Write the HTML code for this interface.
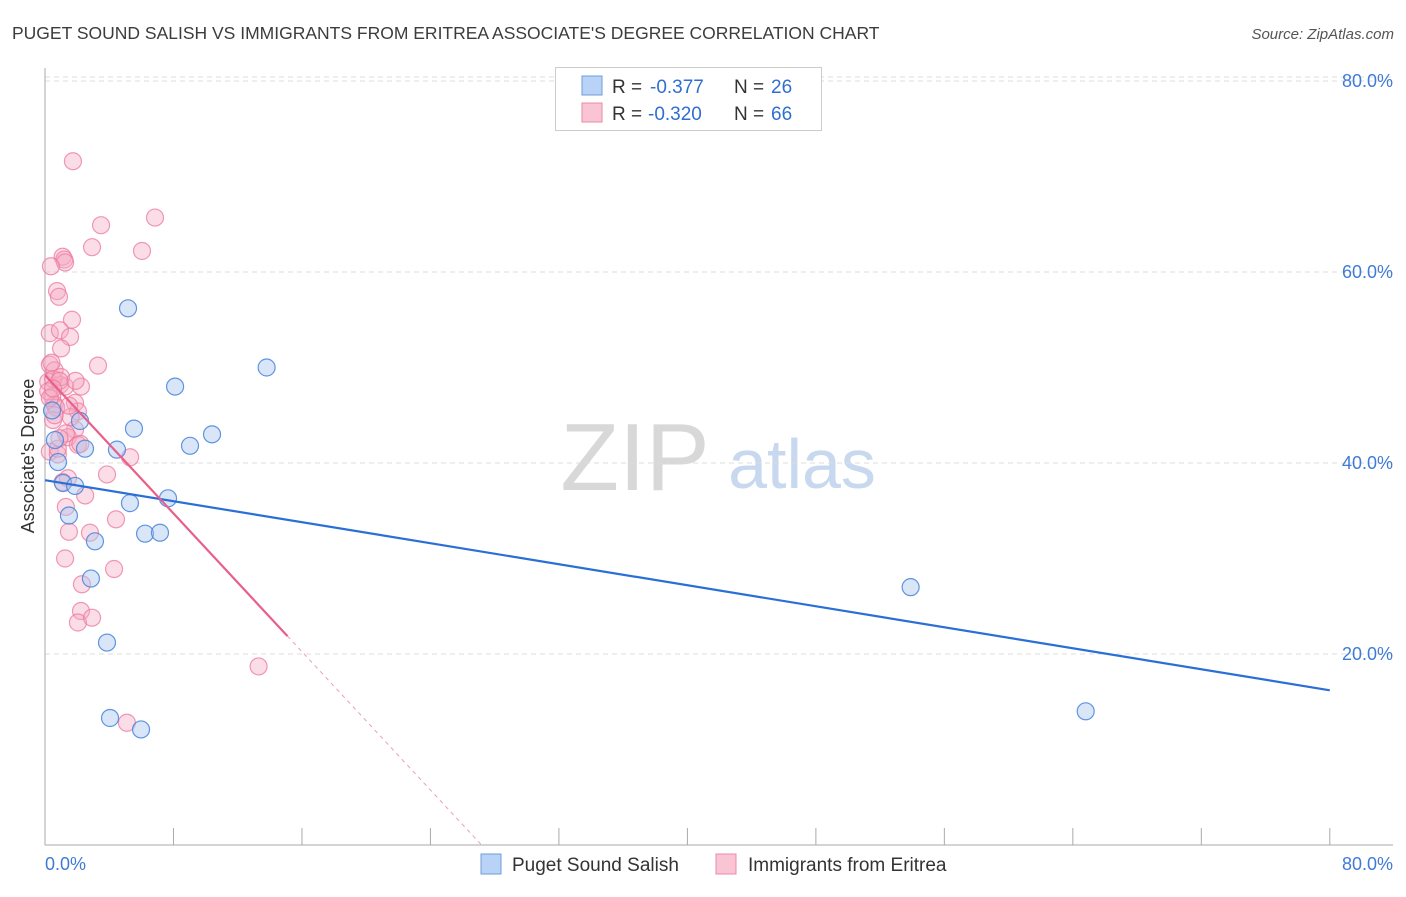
<!DOCTYPE html>
<html><head><meta charset="utf-8"><style>
body{margin:0;background:#fff;font-family:"Liberation Sans",sans-serif;}
svg text{font-family:"Liberation Sans",sans-serif;}
</style></head><body>
<svg id="chart" width="1406" height="892" viewBox="0 0 1406 892" xmlns="http://www.w3.org/2000/svg">
<text x="12" y="39" font-size="17.5" fill="#3c3c3c">PUGET SOUND SALISH VS IMMIGRANTS FROM ERITREA ASSOCIATE'S DEGREE CORRELATION CHART</text>
<text x="1394" y="39" font-size="15" fill="#555" text-anchor="end" font-style="italic">Source: ZipAtlas.com</text>
<g>
<text x="635" y="490" font-size="96" fill="#d8d8d8" font-family="Liberation Serif, serif" text-anchor="middle">ZIP</text>
<text x="802" y="488" font-size="70" fill="#c8d8ee" text-anchor="middle">atlas</text>
</g>
<g id="grid"></g>
<g id="axes"></g>
<g id="marks"></g>
<g>
<rect x="555.500" y="67.500" width="266" height="63" fill="#fff" stroke="#ccc"/>
<rect x="582" y="76" width="20" height="19" fill="#b8d3f5" stroke="#6c9ee0"/>
<text x="612" y="93" font-size="19" fill="#333">R = </text><text x="650" y="93" font-size="19" fill="#2f6fd0">-0.377</text>
<text x="734" y="93" font-size="19" fill="#333">N = </text><text x="771" y="93" font-size="19" fill="#2f6fd0">26</text>
<rect x="582" y="103" width="20" height="19" fill="#f9c5d5" stroke="#ee88a8"/>
<text x="612" y="120" font-size="19" fill="#333">R = </text><text x="648" y="120" font-size="19" fill="#2f6fd0">-0.320</text>
<text x="734" y="120" font-size="19" fill="#333">N = </text><text x="771" y="120" font-size="19" fill="#2f6fd0">66</text>
</g>
<g>
<rect x="481" y="854" width="20" height="20" fill="#b8d3f5" stroke="#6c9ee0"/>
<text x="512" y="871" font-size="19" fill="#333">Puget Sound Salish</text>
<rect x="716" y="854" width="20" height="20" fill="#f9c5d5" stroke="#ee88a8"/>
<text x="748" y="871" font-size="19" fill="#333">Immigrants from Eritrea</text>
</g>
<text transform="translate(34,456) rotate(-90)" font-size="18" fill="#333" text-anchor="middle">Associate's Degree</text>
</svg>
<script>
const yTicks=[20,40,60,80];
const yTickLabels=["20.0%","40.0%","60.0%","80.0%"];
const xTicks=[0,8,16,24,32,40,48,56,64,72,80];
const xLabels=["0.0%","80.0%"];
const salishX=[5.17,13.8,8.1,2.18,5.54,10.4,9.03,2.49,4.48,0.62,0.44,0.81,1.12,1.87,7.66,5.29,1.49,3.11,6.23,7.16,2.86,3.86,4.05,5.98,53.9,64.8];
const salishY=[56.2,50.0,48.0,44.4,43.6,43.0,41.8,41.5,41.4,42.4,45.5,40.1,37.9,37.6,36.3,35.8,34.5,31.8,32.6,32.7,27.9,21.2,13.3,12.1,27.0,14.0];
const eritreaX=[1.74,6.85,3.49,2.93,6.04,1.1,1.2,1.25,0.37,0.75,0.87,1.68,0.3,0.93,1.56,1.0,3.3,0.3,0.6,0.2,0.95,1.25,0.45,2.24,1.87,0.6,2.05,0.5,1.87,1.43,2.05,0.3,0.8,3.86,1.43,2.5,1.3,4.42,1.49,2.8,1.25,2.3,4.3,2.24,2.05,2.93,13.3,5.1,5.3,2.2,0.5,0.2,1.0,0.7,1.6,0.4,0.9,0.3,1.3,0.8,0.5,1.1,1.9,0.6,1.5,0.9];
const eritreaY=[71.6,65.7,64.9,62.6,62.2,61.6,61.3,61.0,60.6,58.0,57.4,55.0,53.6,53.9,53.2,52.0,50.2,50.3,49.7,48.5,48.2,48.0,47.0,48.0,46.3,46.1,45.4,44.5,43.5,42.7,41.9,41.2,40.9,38.8,38.4,36.6,35.4,34.1,32.8,32.7,30.0,27.3,28.9,24.5,23.3,23.8,18.7,12.8,40.6,42.0,48.8,47.5,49.0,45.8,44.8,50.5,48.6,46.8,43.1,41.5,47.8,38.0,48.6,45.0,46.0,42.6];
const salishFit=[38.2,-0.275];
const eritreaFit=[49.2,-1.81];
const NS="http://www.w3.org/2000/svg";
const X=v=>45+v*16.06, Y=v=>845-v*9.55;
function mk(tag,attrs,parent){const e=document.createElementNS(NS,tag);for(const k in attrs)e.setAttribute(k,attrs[k]);document.getElementById(parent).appendChild(e);return e;}
yTicks.forEach((t,i)=>{
 const g=mk('line',{x1:45,x2:1393,y1:Y(t),y2:Y(t),stroke:'#ddd','stroke-dasharray':'5,4'},'grid');
 
 
 const l=mk('text',{x:1393,y:Y(t)+6,'font-size':18,fill:'#3f7bd6','text-anchor':'end'},'axes');l.textContent=yTickLabels[i];
 
 
});
const g0=mk('line',{x1:45,x2:1393,y1:Y(80)-4,y2:Y(80)-4,stroke:'#ddd','stroke-dasharray':'5,4'},'grid');
let a=mk('line',{x1:45,x2:45,y1:68,y2:845,stroke:'#aaa'},'axes');


a=mk('line',{x1:45,x2:1393,y1:845,y2:845,stroke:'#aaa'},'axes');


xTicks.forEach(t=>{const k=mk('line',{x1:X(t),x2:X(t),y1:828,y2:845,stroke:'#aaa'},'axes');
 
 });
let xl=mk('text',{x:45,y:870,'font-size':18,fill:'#3f7bd6'},'axes');xl.textContent=xLabels[0];


xl=mk('text',{x:1393,y:870,'font-size':18,fill:'#3f7bd6','text-anchor':'end'},'axes');xl.textContent=xLabels[1];


eritreaX.forEach((x,i)=>{const c=mk('circle',{cx:X(x),cy:Y(eritreaY[i]),r:8.5,fill:'rgba(246,170,195,0.4)',stroke:'rgba(236,120,158,0.75)','stroke-width':1.2},'marks');
 
 });
salishX.forEach((x,i)=>{const c=mk('circle',{cx:X(x),cy:Y(salishY[i]),r:8.5,fill:'rgba(170,200,240,0.45)',stroke:'rgba(70,130,220,0.85)','stroke-width':1.2},'marks');
 
 });
let t=mk('line',{x1:X(0),y1:Y(salishFit[0]),x2:X(80),y2:Y(salishFit[0]+salishFit[1]*80),stroke:'#2a6fd6','stroke-width':2.2},'marks');


const xe=15.1, xz=-eritreaFit[0]/eritreaFit[1];
t=mk('line',{x1:X(0),y1:Y(eritreaFit[0]),x2:X(xe),y2:Y(eritreaFit[0]+eritreaFit[1]*xe),stroke:'#e8608a','stroke-width':2.2},'marks');


t=mk('line',{x1:X(xe),y1:Y(eritreaFit[0]+eritreaFit[1]*xe),x2:X(xz),y2:Y(0),stroke:'#e8a0b8','stroke-width':1,'stroke-dasharray':'4,4'},'marks');


</script>
</body></html>
